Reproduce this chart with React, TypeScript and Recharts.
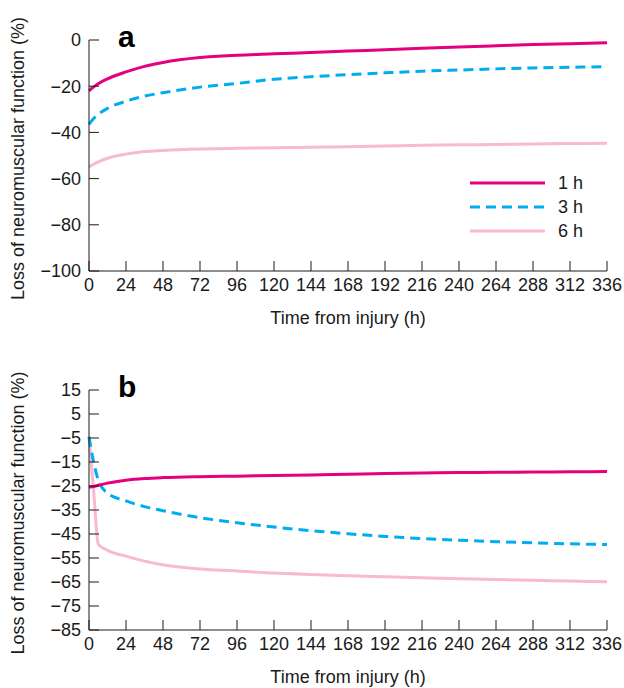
import { LineChart, Line, XAxis, YAxis, Legend, Label } from "recharts";

// sampling times (h)
const hours = [0, 3, 6, 12, 24, 36, 48, 72, 96, 120, 144, 168, 192, 216, 240, 264, 288, 312, 336];
const hourTicks = [0, 24, 48, 72, 96, 120, 144, 168, 192, 216, 240, 264, 288, 312, 336];

// panel a
const aTicks = [-100, -80, -60, -40, -20, 0];
const aOneHour = [-22, -20.3, -18.9, -16.8, -13.8, -11.4, -9.7, -7.6, -6.6, -6.0, -5.4, -4.8, -4.2, -3.6, -3.0, -2.5, -2.0, -1.6, -1.2];
const aThreeHour = [-36.5, -34, -32.2, -29.6, -26.5, -24.3, -22.8, -20.4, -18.8, -17.0, -15.9, -15.0, -14.2, -13.5, -13.0, -12.5, -12.1, -11.8, -11.6];
const aSixHour = [-55, -53.8, -52.8, -51.2, -49.4, -48.3, -47.8, -47.2, -46.9, -46.6, -46.4, -46.2, -45.9, -45.6, -45.4, -45.2, -45.0, -44.8, -44.7];

// panel b
const bTicks = [-85, -75, -65, -55, -45, -35, -25, -15, -5, 5, 15];
const bOneHour = [-25.5, -25.2, -24.7, -23.8, -22.6, -21.9, -21.5, -21.1, -20.9, -20.6, -20.4, -20.1, -19.8, -19.6, -19.4, -19.3, -19.2, -19.1, -19.0];
const bThreeHour = [-4.5, -15, -22.5, -28, -31.2, -33.6, -35.3, -38.2, -40.3, -42.1, -43.6, -44.9, -46.0, -46.9, -47.6, -48.2, -48.7, -49.1, -49.4];
const bSixHour = [-4.5, -27, -49.2, -51.8, -54.2, -56.3, -57.8, -59.6, -60.4, -61.3, -61.9, -62.4, -62.8, -63.2, -63.6, -64.0, -64.3, -64.6, -64.9];

const SERIES = [
  { key: "one", name: "1 h", color: "#e6007e", dash: undefined },
  { key: "three", name: "3 h", color: "#00aeef", dash: "10 6" },
  { key: "six", name: "6 h", color: "#f7b9d3", dash: undefined },
];

const FONT = '"Liberation Sans", Arial, Helvetica, sans-serif';
const INK = "#1a1a1a";
const FS = 18;

function buildRows(one: number[], three: number[], six: number[]) {
  return hours.map((h, i) => ({ h, one: one[i], three: three[i], six: six[i] }));
}

const LegendBox = () => (
  <svg width={150} height={80} style={{ display: "block" }}>
    {SERIES.map((s, i) => (
      <g key={s.key}>
        <line x1={8} x2={83} y1={13 + i * 24} y2={13 + i * 24} stroke={s.color} strokeWidth={3} strokeDasharray={s.dash} />
        <text x={96} y={13 + i * 24} dy="0.35em" fontSize={FS} fill={INK} fontFamily={FONT}>
          {s.name}
        </text>
      </g>
    ))}
  </svg>
);

interface PanelProps {
  letter: string;
  rows: { h: number; one: number; three: number; six: number }[];
  domain: [number, number];
  yTicks: number[];
  top: number;
  xAxisHeight: number;
  showLegend?: boolean;
}

function Panel({ letter, rows, domain, yTicks, top, xAxisHeight, showLegend }: PanelProps) {
  const height = 344;
  return (
    <div style={{ position: "relative", width: 624, height }}>
      <LineChart
        width={624}
        height={height}
        data={rows}
        margin={{ top, right: 17, left: 0, bottom: 0 }}
        style={{ fontFamily: FONT }}
      >
        <XAxis
          dataKey="h"
          type="number"
          domain={[0, 336]}
          ticks={hourTicks}
          interval={0}
          height={xAxisHeight}
          tickSize={-10}
          tickMargin={17}
          stroke={INK}
          tick={{ fill: INK, fontSize: FS }}
        >
          <Label
            content={({ viewBox }: any) => (
              <text x={viewBox.x + viewBox.width / 2} y={viewBox.y + 53} textAnchor="middle" fontSize={FS} fill={INK} fontFamily={FONT}>
                Time from injury (h)
              </text>
            )}
          />
        </XAxis>
        <YAxis
          type="number"
          domain={domain}
          ticks={yTicks}
          interval={0}
          width={89}
          tickSize={-10}
          tickMargin={18}
          stroke={INK}
          tick={{ fill: INK, fontSize: FS }}
          tickFormatter={(v: number) => (v < 0 ? "\u2212" + Math.abs(v) : String(v))}
        >
          <Label
            content={({ viewBox }: any) => {
              const cy = viewBox.y + viewBox.height / 2 + 3;
              return (
                <text x={18} y={cy} transform={`rotate(-90 18 ${cy})`} textAnchor="middle" dominantBaseline="central" fontSize={FS} fill={INK} fontFamily={FONT}>
                  Loss of neuromuscular function (%)
                </text>
              );
            }}
          />
        </YAxis>
        {showLegend && (
          <Legend
            layout="vertical"
            align="center"
            verticalAlign="middle"
            content={() => <LegendBox />}
            wrapperStyle={{ left: 462, top: 170, width: 150, height: 80 }}
          />
        )}
        {[...SERIES].reverse().map((s) => (
          <Line
            key={s.key}
            type="monotone"
            dataKey={s.key}
            name={s.name}
            stroke={s.color}
            strokeWidth={3}
            strokeDasharray={s.dash}
            dot={false}
            activeDot={false}
            isAnimationActive={false}
          />
        ))}
      </LineChart>
      <div
        style={{
          position: "absolute",
          left: 118,
          top: top - 18,
          fontFamily: FONT,
          fontWeight: "bold",
          fontSize: 30,
          lineHeight: "30px",
          color: "#000",
        }}
      >
        {letter}
      </div>
    </div>
  );
}

export default function App() {
  return (
    <div style={{ position: "absolute", left: 0, top: 0, width: 624, height: 688, background: "#fff" }}>
      <Panel letter="a" rows={buildRows(aOneHour, aThreeHour, aSixHour)} domain={[-100, 0]} yTicks={aTicks} top={40} xAxisHeight={73} showLegend />
      <Panel letter="b" rows={buildRows(bOneHour, bThreeHour, bSixHour)} domain={[-85, 15]} yTicks={bTicks} top={46} xAxisHeight={58} />
    </div>
  );
}
